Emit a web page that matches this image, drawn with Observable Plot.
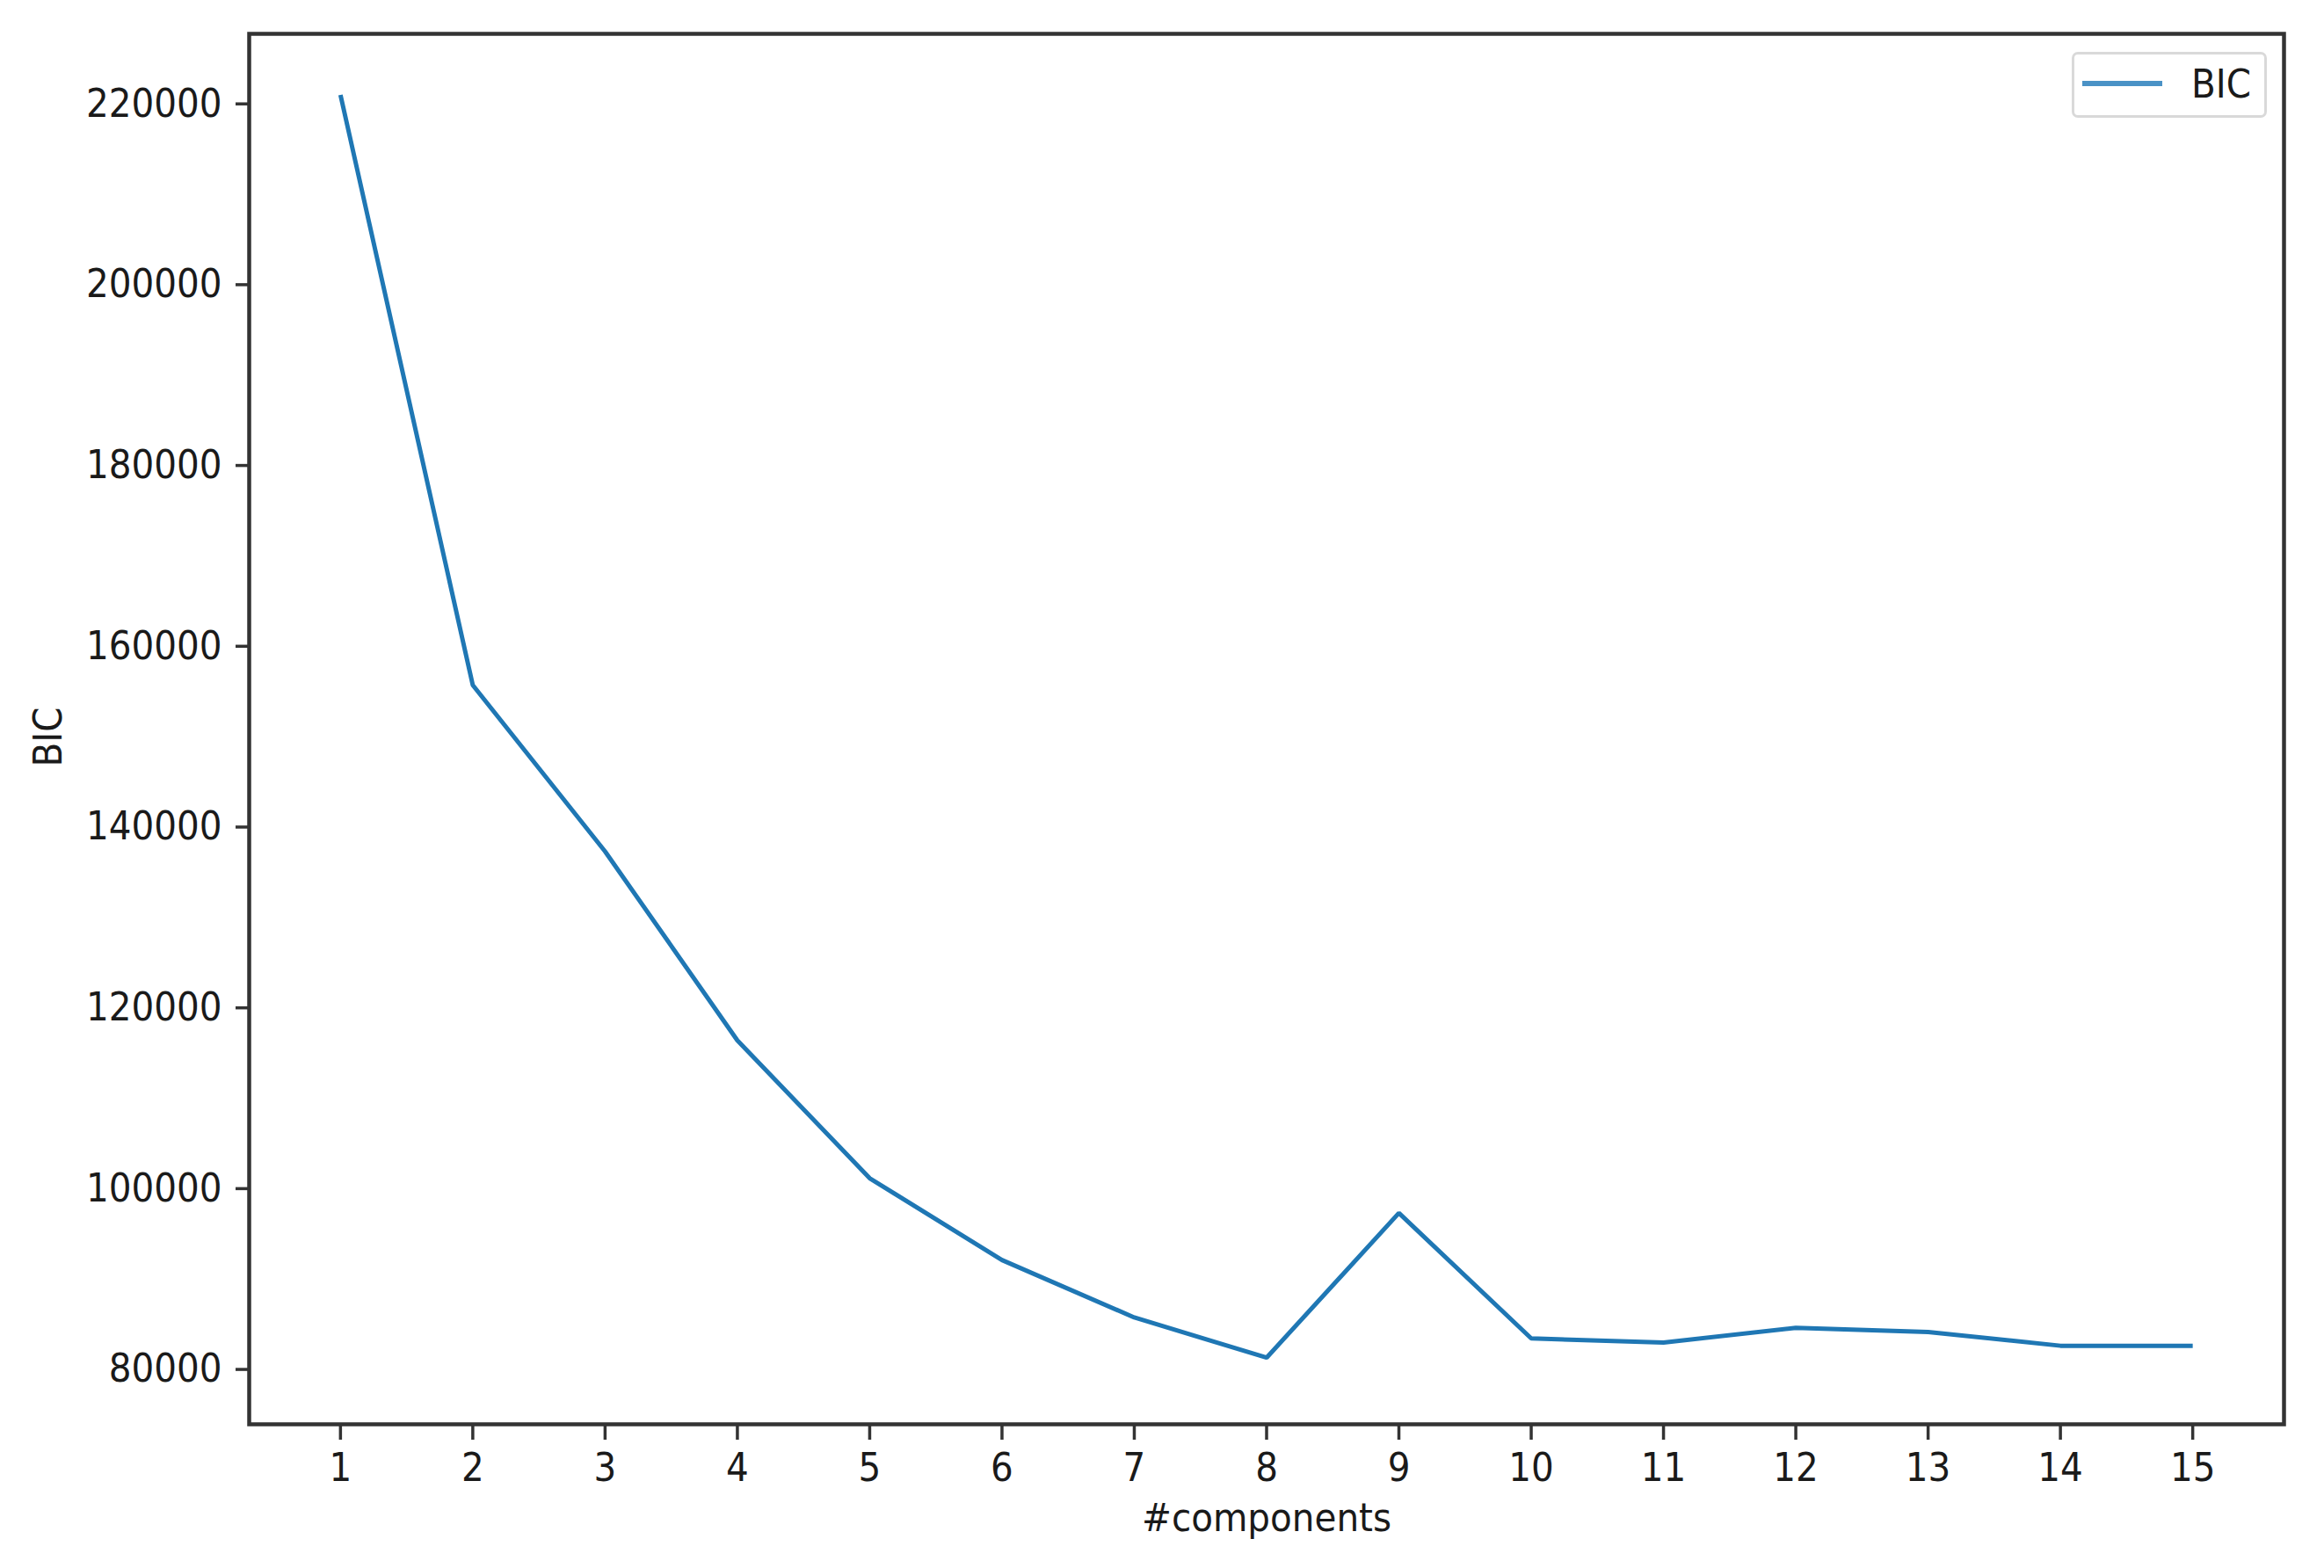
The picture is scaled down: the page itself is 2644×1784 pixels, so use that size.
<!DOCTYPE html>
<html>
<head>
<meta charset="utf-8">
<script src="https://cdn.jsdelivr.net/npm/d3@7"></script>
<script src="https://cdn.jsdelivr.net/npm/@observablehq/plot@0.6"></script>
<style>
  html, body { margin: 0; padding: 0; background: #fff; }
  #wrap { position: relative; width: 2644px; height: 1784px; }
  .lab { font-family: "DejaVu Sans Condensed", "DejaVu Sans", sans-serif; font-stretch: condensed; }
  #legend {
    position: absolute; left: 2357px; top: 59px; width: 216px; height: 69px;
    border: 3px solid #d9d9d9; border-radius: 7px; background: #fff; box-sizing: content-box;
  }
  #legend .swatch { position: absolute; left: 9px; top: 30px; width: 91px; height: 6px; background: #4a92c6; }
  #legend .txt { position: absolute; left: 133px; top: 8px; font-size: 45px; line-height: 52px; color: #1a1a1a; }
</style>
</head>
<body>
<div id="wrap"></div>
<script>
// Data
const components = [1, 2, 3, 4, 5, 6, 7, 8, 9, 10, 11, 12, 13, 14, 15];
const bic = [221000, 155700, 137300, 116400, 101150, 92100, 85750, 81300, 97300, 83430, 82980, 84600, 84150, 82620, 82620];
const xTicks = components;
const yTicks = [80000, 100000, 120000, 140000, 160000, 180000, 200000, 220000];
const seriesName = "BIC";
const xLabel = "#components";
const yLabel = "BIC";

const rows = components.map((c, i) => ({c, v: bic[i]}));
const font = '"DejaVu Sans Condensed", "DejaVu Sans", sans-serif';

const chart = Plot.plot({
  width: 2644,
  height: 1784,
  marginLeft: 283,
  marginRight: 46,
  marginTop: 38,
  marginBottom: 164,
  style: {fontSize: "45px", fontFamily: font, fontStretch: "condensed", color: "#1a1a1a", background: "#fff", overflow: "visible"},
  x: {domain: [0.31, 15.69]},
  y: {domain: [73930, 227750]},
  marks: [
    Plot.axisX({ticks: xTicks, tickSize: 18, tickPadding: 15, tickFormat: d => String(d), label: null, stroke: "#333", strokeWidth: 3.5, fill: "#1a1a1a"}),
    Plot.axisY({ticks: yTicks, tickSize: 15, tickPadding: 16, tickFormat: d => String(d), label: null, stroke: "#333", strokeWidth: 3.5, fill: "#1a1a1a"}),
    Plot.line(rows, {x: "c", y: "v", stroke: "#1f77b4", strokeWidth: 5, strokeLinejoin: "miter", strokeLinecap: "butt"}),
    Plot.frame({stroke: "#333", strokeWidth: 4.5}),
    Plot.text([xLabel], {text: d => d, frameAnchor: "bottom", textAnchor: "middle", lineAnchor: "middle", dy: 107, fill: "#1a1a1a"}),
    Plot.text([yLabel], {text: d => d, frameAnchor: "left", textAnchor: "middle", lineAnchor: "middle", dx: -228, dy: 9, rotate: -90, fill: "#1a1a1a"})
  ]
});

const wrap = document.getElementById("wrap");
wrap.appendChild(chart);

const legend = document.createElement("div");
legend.id = "legend";
legend.innerHTML = '<div class="swatch"></div><div class="txt lab"></div>';
legend.querySelector(".txt").textContent = seriesName;
wrap.appendChild(legend);
</script>
</body>
</html>
